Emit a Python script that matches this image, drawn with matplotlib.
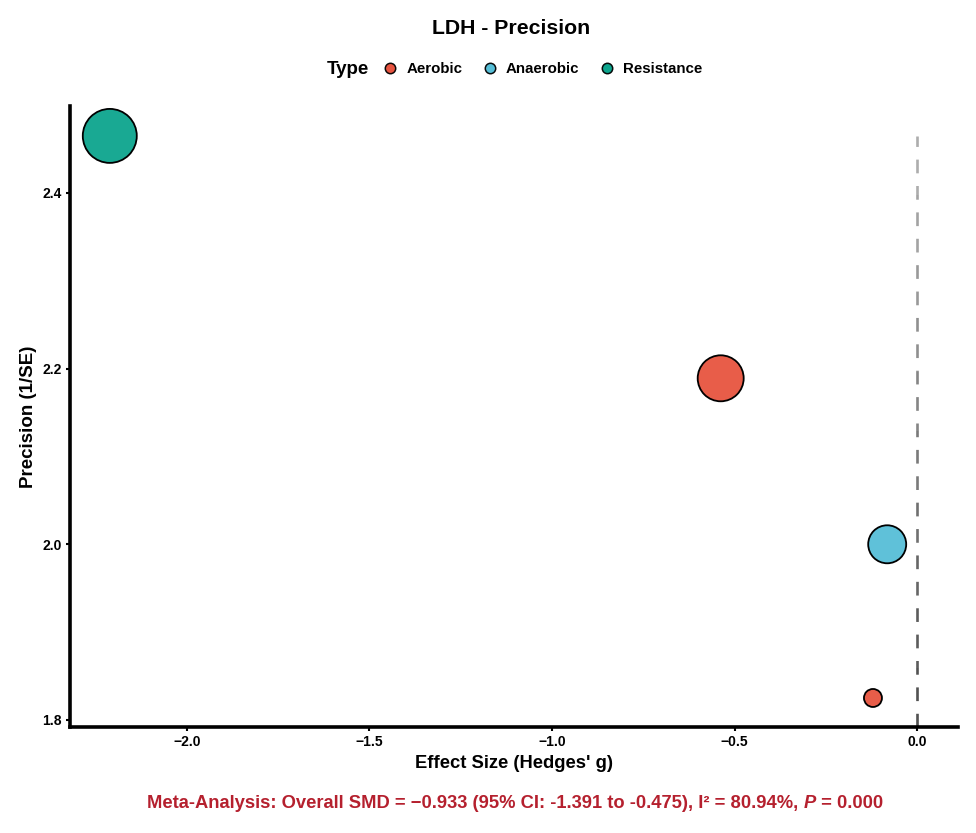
import matplotlib
matplotlib.use("Agg")
import matplotlib.pyplot as plt
from matplotlib.lines import Line2D
import numpy as np

plt.rcParams['font.family'] = ['Liberation Sans', 'DejaVu Sans']

# Data
types = ["Resistance", "Aerobic", "Anaerobic", "Aerobic"]
effect = [-2.211, -0.538, -0.082, -0.121]
precision = [2.465, 2.189, 2.000, 1.825]
weight_px = [54, 46, 38, 18]   # marker diameters in pixels (relative weights)
type_order = ["Aerobic", "Anaerobic", "Resistance"]
type_colors = {"Aerobic": "#E64B35", "Anaerobic": "#4DBBD5", "Resistance": "#00A087"}
xticks = [-2.0, -1.5, -1.0, -0.5, 0.0]
yticks = [1.8, 2.0, 2.2, 2.4]

fig = plt.figure(figsize=(9.76, 8.33), dpi=100)
ax = fig.add_axes([0.0717, 0.1273, 0.9099, 0.7454])

# reference line at 0 (gradient grey dashed)
y0, y1 = 1.792, max(precision)
xs = np.zeros(200)
ys = np.linspace(y0, y1, 200)
from matplotlib.collections import LineCollection
pts = np.column_stack([xs, ys]).reshape(-1, 1, 2)
segs = np.concatenate([pts[:-1], pts[1:]], axis=1)
# draw one dashed line, then overlay whitening gradient is hard; use several pieces with same dash phase
nseg = 10
edges = np.linspace(y0, y1, nseg + 1)
for i in range(nseg):
    shade = 0.32 + 0.36 * i / (nseg - 1)
    ln, = ax.plot([0, 0], [y0, y1], color=(shade, shade, shade),
                  linestyle=(0, (5.2, 4.8)), linewidth=1.9, zorder=1)
    ln.set_clip_path(None)
    import matplotlib.transforms as mtransforms
    rect = matplotlib.patches.Rectangle((-1, edges[i]), 2, edges[i + 1] - edges[i],
                                        transform=ax.transData, visible=False)
    ax.add_patch(rect)
    ln.set_clip_path(rect)

for t, x, y, d in zip(types, effect, precision, weight_px):
    s = (d * 0.72) ** 2
    ax.scatter(x, y, s=s, color=type_colors[t], alpha=0.9, edgecolors="none", zorder=3)
    ax.scatter(x, y, s=s, facecolors="none", edgecolors="black", linewidths=1.3, zorder=4)

ax.set_xlim(-2.32, 0.112)
ax.set_ylim(1.792, 2.499)
ax.set_xticks(xticks)
ax.set_xticklabels([f"{v:.1f}".replace("-", "\u2212") for v in xticks])
ax.set_yticks(yticks)
ax.set_yticklabels([f"{v:.1f}" for v in yticks])
for lab in ax.get_xticklabels() + ax.get_yticklabels():
    lab.set_fontweight("bold")
    lab.set_fontsize(10)
ax.tick_params(axis="both", length=3, width=1.5, color="black", pad=3)

for side in ["top", "right"]:
    ax.spines[side].set_visible(False)
for side in ["left", "bottom"]:
    ax.spines[side].set_linewidth(2.6)

ax.set_xlabel("Effect Size (Hedges' g)", fontsize=13.2, fontweight="bold", labelpad=4)
ax.set_ylabel("Precision (1/SE)", fontsize=13.5, fontweight="bold", labelpad=4)

fig.text(0.524, 0.966, "LDH - Precision", ha="center", va="center",
         fontsize=15.3, fontweight="bold")

handles = [Line2D([0], [0], marker="o", linestyle="none", markersize=7.5,
                  markerfacecolor=type_colors[t], markeredgecolor="black",
                  markeredgewidth=1.1, alpha=0.95) for t in type_order]
leg = fig.legend(handles, type_order, loc="center", bbox_to_anchor=(0.555, 0.917),
                 ncol=3, frameon=False, handletextpad=0.5,
                 columnspacing=1.2, handlelength=1.2,
                 prop={"weight": "bold", "size": 10.8})

fig.canvas.draw()
renderer = fig.canvas.get_renderer()
lb = leg.get_window_extent(renderer)
figw, figh = fig.bbox.width, fig.bbox.height
pad_px = leg.borderpad * 10.8 * 100 / 72
fig.text((lb.x0 + pad_px - 12) / figw, 0.917, "Type", ha="right", va="center",
         fontsize=13.5, fontweight="bold")

# bottom annotation
red = "#B5202E"
parts = [("Meta-Analysis: Overall SMD = \u22120.933 (95% CI: -1.391 to -0.475), I\u00b2 = 80.94%, ", "normal"),
         ("P", "italic"),
         (" = 0.000", "normal")]
texts = []
for s_, style in parts:
    t = fig.text(0, 0.036, s_, ha="left", va="center", fontsize=13.2,
                 fontweight="bold", fontstyle=style, color=red)
    texts.append(t)
widths = [t.get_window_extent(renderer).width for t in texts]
total = sum(widths)
x = 0.528 * figw - total / 2
for t, w in zip(texts, widths):
    t.set_x(x / figw)
    x += w

fig.savefig("out.png", dpi=100, facecolor="white")
